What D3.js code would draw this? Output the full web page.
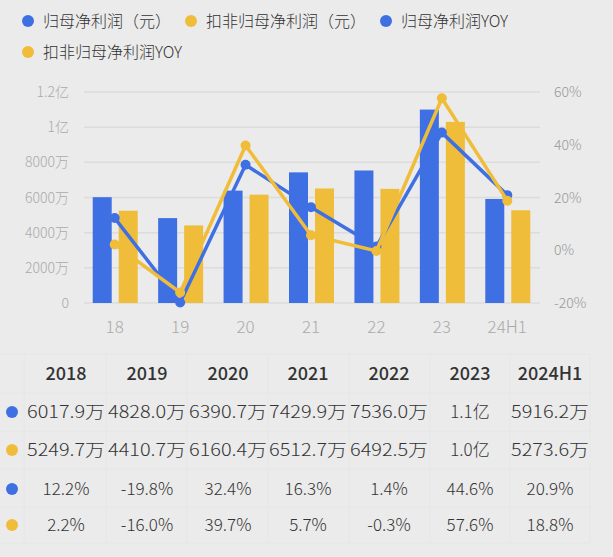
<!DOCTYPE html>
<html><head><meta charset="utf-8">
<script src="https://cdn.jsdelivr.net/npm/d3@7"></script>
<style>body{margin:0;background:#ebebeb;font-family:"Noto Sans CJK SC","Noto Sans",sans-serif;}</style>
</head><body>
<script>
var categories = ["18", "19", "20", "21", "22", "23", "24H1"];
var years = ["2018", "2019", "2020", "2021", "2022", "2023", "2024H1"];
var netProfit = [6017.9, 4828.0, 6390.7, 7429.9, 7536.0, 11000, 5916.2];      // 万
var netProfitAdj = [5249.7, 4410.7, 6160.4, 6512.7, 6492.5, 10300, 5273.6];  // 万
var netYoy = [12.2, -19.8, 32.4, 16.3, 1.4, 44.6, 20.9];
var adjYoy = [2.2, -16.0, 39.7, 5.7, -0.3, 57.6, 18.8];
var leftTicks = [0, 2000, 4000, 6000, 8000, 10000, 12000];
var rightTicks = [-20, 0, 20, 40, 60];
var tableRows = [
  ["6017.9万", "4828.0万", "6390.7万", "7429.9万", "7536.0万", "1.1亿", "5916.2万"],
  ["5249.7万", "4410.7万", "6160.4万", "6512.7万", "6492.5万", "1.0亿", "5273.6万"],
  ["12.2%", "-19.8%", "32.4%", "16.3%", "1.4%", "44.6%", "20.9%"],
  ["2.2%", "-16.0%", "39.7%", "5.7%", "-0.3%", "57.6%", "18.8%"]
];
var blue = "#3f70e3", yellow = "#f0bd3a";

var width = 613, height = 557;
var svg = d3.select("body").append("svg").attr("width", width).attr("height", height);

// legend
var legend = [["归母净利润（元）", blue, 28, 21], ["扣非归母净利润（元）", yellow, 191, 21],
  ["归母净利润YOY", blue, 386, 21], ["扣非归母净利润YOY", yellow, 28, 52]];
legend.forEach(function(d) {
  svg.append("circle").attr("cx", d[2]).attr("cy", d[3]).attr("r", 6).attr("fill", d[1]);
  svg.append("text").attr("x", d[2] + 15).attr("y", d[3] + 6).attr("font-size", 16)
    .attr("font-weight", 300).attr("fill", "#333").text(d[0]);
});

var x = d3.scaleBand().domain(categories).range([82, 540]);
var y = d3.scaleLinear().domain([0, 12000]).range([303, 92]);
var y2 = d3.scaleLinear().domain([-20, 60]).range([303, 92]);

svg.selectAll(".grid").data(leftTicks).enter().append("line")
  .attr("x1", 84).attr("x2", 540)
  .attr("y1", function(d) { return y(d); }).attr("y2", function(d) { return y(d); })
  .attr("stroke", "#dcdcdc").attr("stroke-width", 1.5);

function fmtLeft(d) {
  if (d >= 10000) return (d / 10000) + "亿";
  if (d === 0) return "0";
  return d + "万";
}
svg.selectAll(".lt").data(leftTicks).enter().append("text")
  .attr("x", 69).attr("y", function(d) { return y(d) + 5; }).attr("text-anchor", "end")
  .attr("font-size", 14).attr("font-weight", 300).attr("fill", "#aaa").text(fmtLeft);
svg.selectAll(".rt").data(rightTicks).enter().append("text")
  .attr("x", 554).attr("y", function(d) { return y2(d) + 5; })
  .attr("font-size", 14).attr("font-weight", 300).attr("fill", "#999").text(function(d) { return d + "%"; });
svg.selectAll(".xt").data(categories).enter().append("text")
  .attr("x", function(d) { return x(d) + x.bandwidth() / 2; }).attr("y", 333)
  .attr("text-anchor", "middle").attr("font-size", 17).attr("font-weight", 300)
  .attr("fill", "#aaa").text(function(d) { return d; });

var bw = 19;
svg.selectAll(".b1").data(netProfit).enter().append("rect")
  .attr("x", function(d, i) { return x(categories[i]) + x.bandwidth() / 2 - bw - 3; })
  .attr("y", function(d) { return y(d); }).attr("width", bw)
  .attr("height", function(d) { return y(0) - y(d); }).attr("fill", blue);
svg.selectAll(".b2").data(netProfitAdj).enter().append("rect")
  .attr("x", function(d, i) { return x(categories[i]) + x.bandwidth() / 2 + 4; })
  .attr("y", function(d) { return y(d); }).attr("width", bw)
  .attr("height", function(d) { return y(0) - y(d); }).attr("fill", yellow);

function drawLine(data, color) {
  var cx = function(d, i) { return x(categories[i]) + x.bandwidth() / 2; };
  var line = d3.line().x(cx).y(function(d) { return y2(d); });
  svg.append("path").datum(data).attr("d", line).attr("fill", "none")
    .attr("stroke", color).attr("stroke-width", 3.5);
  svg.selectAll(null).data(data).enter().append("circle")
    .attr("cx", cx).attr("cy", function(d) { return y2(d); }).attr("r", 5).attr("fill", color);
}
drawLine(netYoy, blue);
drawLine(adjYoy, yellow);

// table
var colX = [66, 147, 228, 308, 389, 470, 550];
var rowY = [373, 412, 450, 489, 525];
var colEdges = [24, 106, 187, 268, 349, 430, 510, 590];
svg.selectAll(".vl").data(colEdges).enter().append("line")
  .attr("x1", function(d) { return d; }).attr("x2", function(d) { return d; })
  .attr("y1", 354).attr("y2", 543).attr("stroke", "#e6e6e6");
svg.selectAll(".hl").data([354, 393, 431, 469, 507, 543]).enter().append("line")
  .attr("x1", 0).attr("x2", 590).attr("y1", function(d) { return d; }).attr("y2", function(d) { return d; })
  .attr("stroke", "#e6e6e6");
svg.selectAll(".th").data(years).enter().append("text")
  .attr("x", function(d, i) { return colX[i]; }).attr("y", rowY[0] + 7)
  .attr("text-anchor", "middle").attr("font-size", 18).attr("font-weight", 500)
  .attr("fill", "#333").text(function(d) { return d; });
var rowColors = [blue, yellow, blue, yellow];
tableRows.forEach(function(row, r) {
  svg.append("circle").attr("cx", 12).attr("cy", rowY[r + 1]).attr("r", 6).attr("fill", rowColors[r]);
  svg.selectAll(null).data(row).enter().append("text")
    .attr("x", function(d, i) { return colX[i]; }).attr("y", rowY[r + 1] + 6)
    .attr("text-anchor", "middle").attr("font-size", 17).attr("font-weight", 300).attr("fill", "#333")
    .attr("textLength", function(d) { return d.length > 6 ? 78 : null; })
    .attr("lengthAdjust", "spacingAndGlyphs")
    .text(function(d) { return d; });
});
</script>
</body></html>
